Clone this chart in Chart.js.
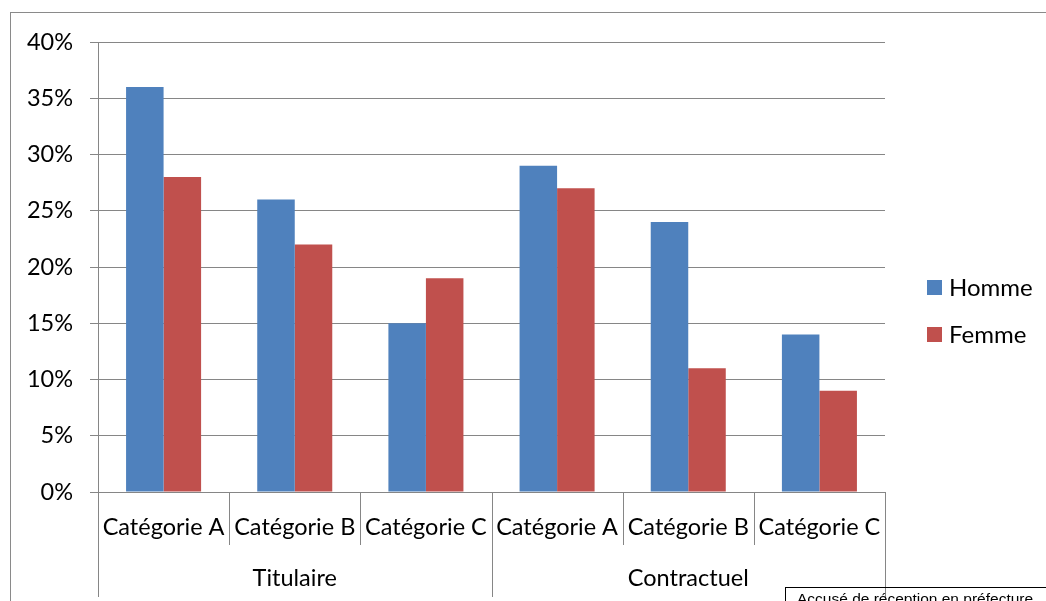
<!DOCTYPE html>
<html lang="fr">
<head>
<meta charset="utf-8">
<title>Répartition par catégorie</title>
<script src="https://cdn.jsdelivr.net/npm/chart.js@4.4.1/dist/chart.umd.min.js"></script>
<style>
  html, body { margin: 0; padding: 0; background: #ffffff; }
  #wrap { position: relative; width: 1046px; height: 601px; overflow: hidden; }
  #c { display: block; }
  #stamp {
    position: absolute; left: 785px; top: 587px; width: 400px; height: 40px;
    border: 1px solid #000; box-sizing: border-box;
    font-family: "Liberation Sans", Arial, sans-serif; font-size: 15.5px; color: #000;
    padding: 2px 0 0 11px; white-space: nowrap;
  }
</style>
</head>
<body>
<div id="wrap">
  <canvas id="c" width="1046" height="601"></canvas>
  <div id="stamp">Accusé de réception en préfecture</div>
</div>
<script>
// Sub-categories along the x axis, and the groups that span them
const categories = ['Catégorie A', 'Catégorie B', 'Catégorie C', 'Catégorie A', 'Catégorie B', 'Catégorie C'];
const groups = ['Titulaire', 'Contractuel'];
const groupSize = 3;

// Shares in percent
const homme = [36, 26, 15, 29, 24, 14];
const femme = [28, 22, 19, 27, 11, 9];

const seriesNames = ['Homme', 'Femme'];
const seriesColors = ['#4F81BD', '#C0504D'];

const yTicks = [0, 5, 10, 15, 20, 25, 30, 35, 40];

const FONT = 'Lato';
const FONT_SIZE = 23.5;
const GRID = '#868686';

// Frame around the whole chart
const framePlugin = {
  id: 'frame',
  beforeDraw(chart) {
    const ctx = chart.ctx;
    ctx.save();
    ctx.strokeStyle = '#8a8a8a';
    ctx.lineWidth = 1;
    ctx.strokeRect(10.5, 12.5, 2000, 2000);
    ctx.restore();
  }
};

// Two-level category axis: separators plus group labels
const groupAxisPlugin = {
  id: 'groupAxis',
  afterDraw(chart) {
    const { ctx, chartArea, scales: { x } } = chart;
    const step = x.getPixelForValue(1) - x.getPixelForValue(0);
    const start = x.getPixelForValue(0) - step / 2;
    ctx.save();
    ctx.strokeStyle = GRID;
    ctx.lineWidth = 1;
    for (let i = 0; i <= categories.length; i++) {
      const px = Math.round(start + i * step) + 0.5;
      const edge = i % groupSize === 0;
      ctx.beginPath();
      ctx.moveTo(px, chartArea.bottom);
      ctx.lineTo(px, edge ? 597 : 545);
      ctx.stroke();
    }
    ctx.fillStyle = '#000';
    ctx.font = FONT_SIZE + 'px ' + FONT;
    ctx.textAlign = 'center';
    ctx.textBaseline = 'middle';
    groups.forEach((g, gi) => {
      const left = start + gi * groupSize * step;
      const right = left + groupSize * step;
      ctx.fillText(g, (left + right) / 2, 578);
    });
    ctx.restore();
  }
};

// Legend on the right, built from the datasets
const sideLegendPlugin = {
  id: 'sideLegend',
  afterDraw(chart) {
    const ctx = chart.ctx;
    ctx.save();
    ctx.font = '24px ' + FONT;
    ctx.textBaseline = 'middle';
    ctx.textAlign = 'left';
    chart.data.datasets.forEach((ds, i) => {
      const cy = 287 + i * 47;
      ctx.fillStyle = ds.backgroundColor;
      ctx.fillRect(927, cy - 7, 15, 15);
      ctx.fillStyle = '#000';
      ctx.fillText(ds.label, 949, cy + 1);
    });
    ctx.restore();
  }
};

new Chart(document.getElementById('c'), {
  type: 'bar',
  data: {
    labels: categories,
    datasets: [
      { label: seriesNames[0], data: homme, backgroundColor: seriesColors[0] },
      { label: seriesNames[1], data: femme, backgroundColor: seriesColors[1] }
    ]
  },
  options: {
    responsive: false,
    animation: false,
    devicePixelRatio: 1,
    layout: { padding: { top: 42, right: 161, bottom: 0, left: 0 } },
    datasets: {
      bar: { categoryPercentage: 0.572, barPercentage: 1.0, borderWidth: 0 }
    },
    plugins: {
      legend: { display: false },
      tooltip: { enabled: false }
    },
    scales: {
      x: {
        grid: { display: false, drawTicks: false },
        border: { display: true, color: GRID, width: 1 },
        ticks: {
          color: '#000',
          font: { family: FONT, size: FONT_SIZE },
          padding: 21,
          maxRotation: 0,
          autoSkip: false
        },
        afterFit(scale) { scale.height = 109; }
      },
      y: {
        min: 0,
        max: 40,
        afterBuildTicks(scale) { scale.ticks = yTicks.map(v => ({ value: v })); },
        grid: { color: GRID, lineWidth: 1, tickLength: 8, drawTicks: true },
        border: { display: true, color: GRID, width: 1 },
        ticks: {
          color: '#000',
          font: { family: FONT, size: FONT_SIZE },
          padding: 17,
          callback: v => v + '%'
        },
        afterFit(scale) { scale.width = 98; }
      }
    }
  },
  plugins: [framePlugin, groupAxisPlugin, sideLegendPlugin]
});
</script>
</body>
</html>
